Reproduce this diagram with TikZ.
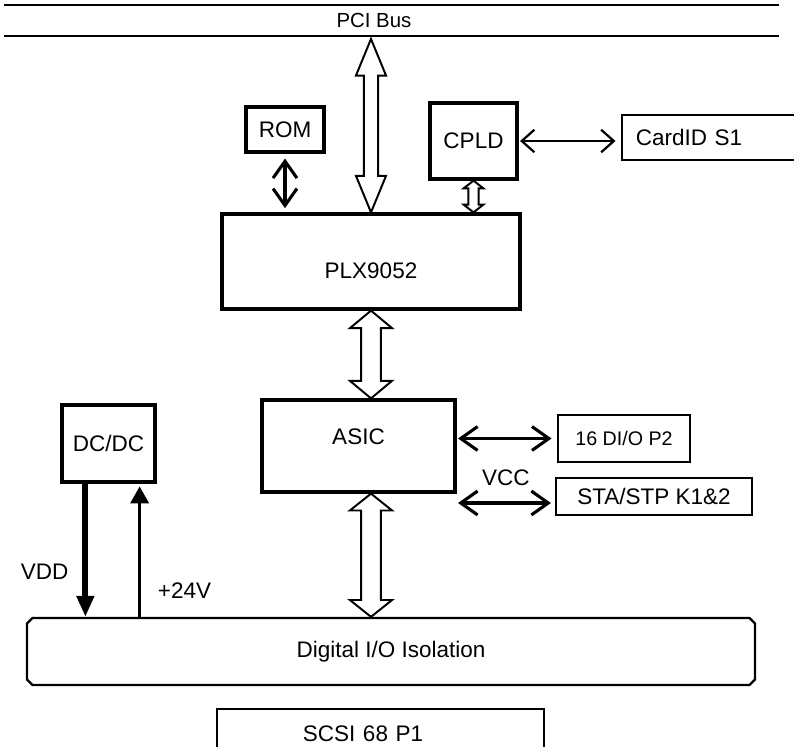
\documentclass[tikz,border=0pt]{standalone}
\usepackage{fontspec}
\setmainfont{Liberation Sans}
\usetikzlibrary{arrows.meta, calc, positioning, shapes.misc}

% flecha de bus hueca de doble punta: (arriba) (abajo) {media cana} {media punta} {largo punta}
\newcommand{\flechabus}[5]{%
  \draw[flujobus] let \p1=#1, \p2=#2 in
    (\x1,\y1) -- (\x1+#4,\y1-#5) -- (\x1+#3,\y1-#5) -- (\x1+#3,\y2+#5)
    -- (\x1+#4,\y2+#5) -- (\x1,\y2) -- (\x1-#4,\y2+#5) -- (\x1-#3,\y2+#5)
    -- (\x1-#3,\y1-#5) -- (\x1-#4,\y1-#5) -- cycle;}

\begin{document}
\begin{tikzpicture}[x=0.025cm, y=-0.025cm,
    bloque/.style={rectangle, draw=black, line width=2.3pt, inner sep=0pt, font=\fontsize{16}{19}\selectfont},
    conector/.style={rectangle, draw=black, line width=1.2pt, inner sep=0pt, font=\fontsize{16}{19}\selectfont},
    etiqueta/.style={inner sep=0pt, font=\fontsize{16}{19}\selectfont},
    lineabus/.style={line width=1.5pt},
    flujobus/.style={draw=black, line width=1.4pt, fill=white, line join=miter},
    flujo/.style={{Straight Barb[length=12pt,width=17pt]}-{Straight Barb[length=12pt,width=17pt]}, line width=2.2pt},
    flujofino/.style={{Straight Barb[length=9pt,width=16pt]}-{Straight Barb[length=9pt,width=16pt]}, line width=1.6pt},
]
\useasboundingbox (0,0) rectangle (794,747);

% bus PCI
\draw[lineabus] (4,5) -- (779,5);
\draw[lineabus] (4,36) -- (779,36);
\coordinate (busbajo) at (391,36);
\node (pci) [etiqueta, font=\fontsize{14.5}{17}\selectfont] at (374,20.5) {PCI Bus};

\node (rom) [bloque, minimum width=1.95cm, minimum height=1.125cm] at (285,129.5) {ROM};

\node (cpld) [bloque, minimum width=2.175cm, minimum height=1.9cm] at (473.5,141) {CPLD};

\node (cardid) [conector, minimum height=1.125cm, text width=4.3cm, inner xsep=0.35cm, align=left] at (722,137.5) {CardID S1};

\node (plx) [bloque, minimum width=7.45cm, minimum height=2.375cm, text height=24pt] at (371,261.5) {PLX9052};

\node (asic) [bloque, minimum width=4.825cm, minimum height=2.3cm, text depth=14pt] at (358.5,446) {ASIC};

\node (di) [conector, minimum width=3.3cm, minimum height=1.175cm, font=\fontsize{14}{17}\selectfont] at (624,438.5) {16 DI/O P2};

\node (sta) [conector, minimum width=4.9cm, minimum height=0.925cm] at (654,496.5) {STA/STP K1\&2};

\node (dcdc) [bloque, minimum width=2.325cm, minimum height=1.925cm] at (108.5,443.5) {DC/DC};

\node (iso) [chamfered rectangle, chamfered rectangle sep=2pt, draw=black, line width=1.6pt, inner sep=0pt, minimum width=18.2cm, minimum height=1.675cm, font=\fontsize{16}{19}\selectfont] at (391,651.5) {Digital I/O Isolation};

\node (scsi) [conector, minimum height=1.25cm, text width=3.875cm, inner xsep=2.15cm, align=left] at (380.5,734) {SCSI 68 P1};

% buses huecos
\flechabus{($(plx.north |- busbajo)+(0,3)$)}{(plx.north)}{5pt}{10.7pt}{26pt}
\flechabus{(cpld.south)}{(cpld.south |- plx.north)}{3.6pt}{7pt}{5.5pt}
\flechabus{(plx.south)}{(asic.north -| plx.south)}{7pt}{15pt}{12.5pt}
\flechabus{(asic.south -| plx.south)}{(iso.north -| plx.south)}{7pt}{15pt}{12pt}

% flechas de datos
\draw[flujo, shorten <=3.5pt, shorten >=3pt] (rom.south) -- (rom.south |- plx.north);
\draw[flujofino, shorten <=1pt, shorten >=4pt] (cpld.east) -- (cpld.east -| cardid.west);
\draw[flujo, shorten <=1pt, shorten >=4pt] (asic.east |- di.west) -- (di.west);
\draw[flujo, shorten <=1pt, shorten >=3pt] ($(asic.east |- sta.west)+(0,6.5)$) -- ($(sta.west)+(0,6.5)$) node[etiqueta, midway, above=0.4cm] {VCC};

% alimentacion
\coordinate (vdd) at ($(dcdc.south west)+(25,0)$);
\coordinate (vin) at ($(dcdc.south east)+(-17,0)$);
\draw[-{Triangle[length=15pt,width=12pt]}, line width=4.2pt] (vdd) -- (vdd |- iso.north) node[etiqueta, pos=0.66, left=0.35cm] {VDD};
\draw[-{Triangle[length=12pt,width=13pt]}, line width=1.8pt, shorten >=2pt] (vin |- iso.north) -- (vin) node[etiqueta, pos=0.2, right=0.425cm] {+24V};

\end{tikzpicture}
\end{document}
